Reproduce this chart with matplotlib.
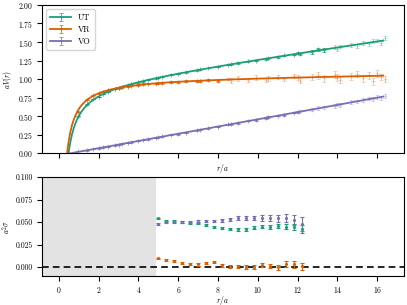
import numpy as np
import matplotlib
matplotlib.use("Agg")
import matplotlib.pyplot as plt
from matplotlib.legend_handler import HandlerTuple

plt.rcParams["font.family"] = "serif"
plt.rcParams["font.serif"] = ["cmr10", "DejaVu Serif"]
plt.rcParams["mathtext.fontset"] = "cm"
plt.rcParams["axes.formatter.use_mathtext"] = True
plt.rcParams["font.size"] = 6

colors = {"UT": "#1b9e77", "VR": "#d95f02", "VO": "#7570b3"}

# top panel: potential data
r_top = [0.98, 1.41, 1.73, 2.0, 2.24, 2.45, 2.83, 3.0, 3.16, 3.46, 3.61, 4.0, 4.24,
         4.47, 4.9, 5.0, 5.2, 5.66, 6.0, 6.4, 6.93, 7.07, 7.5, 8.0, 8.49, 8.66, 9.0,
         9.5, 9.9, 10.39, 10.5, 11.0, 11.31, 11.8, 12.0, 12.12, 12.7, 13.0, 13.3,
         13.86, 14.0, 14.14, 14.7, 15.0, 15.3, 15.59, 15.8, 16.0, 16.2, 16.4]
V_UT = [0.50, 0.66, 0.73, 0.76, 0.80, 0.83, 0.87, 0.88, 0.90, 0.92, 0.93, 0.96, 0.97,
        0.99, 1.01, 1.02, 1.03, 1.06, 1.07, 1.09, 1.12, 1.13, 1.15, 1.17, 1.19, 1.20,
        1.22, 1.24, 1.25, 1.27, 1.28, 1.30, 1.32, 1.33, 1.35, 1.34, 1.37, 1.40, 1.39,
        1.43, 1.41, 1.44, 1.46, 1.45, 1.49, 1.47, 1.51, 1.52, 1.49, 1.55]
V_VR = [0.56, 0.72, 0.78, 0.81, 0.83, 0.85, 0.87, 0.88, 0.89, 0.90, 0.91, 0.92, 0.93,
        0.94, 0.94, 0.95, 0.95, 0.96, 0.96, 0.97, 0.98, 0.97, 0.99, 0.98, 1.00, 0.98,
        1.01, 0.99, 1.02, 0.99, 1.01, 1.03, 1.00, 1.04, 1.02, 0.98, 1.03, 1.05, 1.01,
        1.06, 1.02, 0.99, 1.04, 1.07, 1.01, 1.05, 0.97, 1.08, 1.03, 1.00]
V_VO = [0.03, 0.04, 0.06, 0.07, 0.08, 0.09, 0.11, 0.12, 0.13, 0.14, 0.15, 0.17, 0.18,
        0.19, 0.21, 0.22, 0.23, 0.25, 0.26, 0.28, 0.31, 0.32, 0.34, 0.36, 0.39, 0.39,
        0.41, 0.44, 0.45, 0.48, 0.49, 0.51, 0.52, 0.55, 0.56, 0.57, 0.59, 0.61, 0.62,
        0.64, 0.66, 0.65, 0.69, 0.70, 0.72, 0.74, 0.73, 0.76, 0.75, 0.77]
err_UT = [0.004] * 11 + [0.006] * 14 + [0.010] * 11 + [0.025] * 14
err_VR = [0.006] * 11 + [0.012] * 14 + [0.030] * 11 + [0.045] * 14
err_VO = [0.004] * 11 + [0.006] * 14 + [0.010] * 11 + [0.025] * 14

# fit parameters: V = c + sigma*r - b/r
fit_UT = (0.917, 0.0387, 0.454)
fit_VR = (1.012, 0.0037, 0.42)
fit_VO = (-0.0267, 0.0486, 0.0)

# bottom panel: local string tension
r_bot = [5.0, 5.4, 5.8, 6.2, 6.6, 7.0, 7.4, 7.8, 8.2, 8.6, 9.0, 9.4, 9.8, 10.2,
         10.6, 11.0, 11.4, 11.8, 12.2]
s_UT = [0.0543, 0.0513, 0.0510, 0.0502, 0.0494, 0.0487, 0.0465, 0.0446, 0.0438,
        0.0427, 0.0420, 0.0420, 0.0438, 0.0449, 0.0449, 0.0457, 0.0449, 0.0442, 0.0420]
s_VR = [0.0097, 0.0078, 0.0063, 0.0041, 0.0030, 0.0030, 0.0047, 0.0056, 0.0019,
        0.0003, 0.0007, 0.0000, 0.0003, 0.0019, 0.0011, -0.0004, 0.0030, 0.0030, 0.0007]
s_VO = [0.0483, 0.0498, 0.0502, 0.0502, 0.0502, 0.0505, 0.0514, 0.0513, 0.0520,
        0.0531, 0.0546, 0.0543, 0.0546, 0.0546, 0.0546, 0.0543, 0.0543, 0.0524, 0.0480]
e_UT = [0.0008, 0.0008, 0.0009, 0.0009, 0.0010, 0.0010, 0.0011, 0.0012, 0.0012,
        0.0013, 0.0014, 0.0015, 0.0017, 0.0019, 0.0021, 0.0024, 0.0027, 0.0032, 0.0045]
e_VR = [0.0009, 0.0010, 0.0010, 0.0011, 0.0012, 0.0013, 0.0014, 0.0015, 0.0016,
        0.0017, 0.0018, 0.0019, 0.0021, 0.0023, 0.0026, 0.0029, 0.0033, 0.0036, 0.0040]
e_VO = [0.0010, 0.0011, 0.0011, 0.0012, 0.0013, 0.0014, 0.0015, 0.0016, 0.0017,
        0.0019, 0.0021, 0.0024, 0.0027, 0.0030, 0.0034, 0.0039, 0.0045, 0.0055, 0.0080]

fig = plt.figure(figsize=(4.07, 3.05), dpi=100)
ax1 = fig.add_axes([0.103, 0.497, 0.89, 0.487])
ax2 = fig.add_axes([0.103, 0.095, 0.89, 0.324], sharex=ax1)

series = [("UT", V_UT, err_UT, fit_UT, 13.3),
          ("VR", V_VR, err_VR, fit_VR, 8.3),
          ("VO", V_VO, err_VO, fit_VO, 12.0)]
handles = []
for name, V, err, (c, sig, b), cut in series:
    col = colors[name]
    r = np.array(r_top)
    near = r <= cut
    for mask, al in [(near, 0.8), (~near, 0.3)]:
        eb = ax1.errorbar(r[mask], np.array(V)[mask], yerr=np.array(err)[mask],
                          fmt="+", ms=2.5, mew=0.6, color=col, elinewidth=0.6,
                          capsize=1.5, capthick=0.6, alpha=al)
        if al == 0.8:
            eb_leg = eb
    rstart = 0.3 if b > 0 else 0.55
    rr = np.linspace(rstart, 16.3, 400)
    ln, = ax1.plot(rr, c + sig * rr - b / rr, color=col, lw=1.3, zorder=3)
    handles.append((ln, eb_leg))

ax1.legend(handles, ["UT", "VR", "VO"], loc="upper left", fontsize=6,
           handler_map={tuple: HandlerTuple(ndivide=1)}, handlelength=2.5,
           borderpad=0.5, labelspacing=0.45)
ax1.set_ylim(0, 2.0)
ax1.set_yticks(np.arange(0, 2.01, 0.25))
ax1.set_ylabel(r"$aV(r)$", fontsize=5.5)
ax1.yaxis.set_label_coords(-0.077, 0.5)
ax1.set_xlabel(r"$r/a$", fontsize=5.5)
ax1.xaxis.set_label_coords(0.5, -0.06)
ax1.tick_params(labelbottom=False, labelsize=5.5, pad=3)

ax2.axvspan(-0.85, 4.9, color="#e3e3e3", lw=0, zorder=0)
ax2.axhline(0, color="black", ls="--", lw=1.2, dashes=(4, 2.5), zorder=1)
for name, s, e in [("UT", s_UT, e_UT), ("VR", s_VR, e_VR), ("VO", s_VO, e_VO)]:
    ax2.errorbar(r_bot, s, yerr=e, fmt=".", ms=2.5, color=colors[name],
                 elinewidth=0.8, capsize=1.5, capthick=0.8, zorder=2)
ax2.set_ylim(-0.01, 0.1)
ax2.set_yticks([0, 0.025, 0.05, 0.075, 0.1])
ax2.set_yticklabels(["0.000", "0.025", "0.050", "0.075", "0.100"])
ax2.set_xlim(-0.85, 17.35)
ax2.set_xticks(range(0, 17, 2))
ax2.set_ylabel(r"$a^2\sigma$", fontsize=5.5)
ax2.yaxis.set_label_coords(-0.08, 0.5)
ax2.set_xlabel(r"$r/a$", fontsize=5.5)
ax2.xaxis.set_label_coords(0.5, -0.177)
ax2.tick_params(labelsize=5.5, pad=3)

fig.savefig("out.png", dpi=100)
